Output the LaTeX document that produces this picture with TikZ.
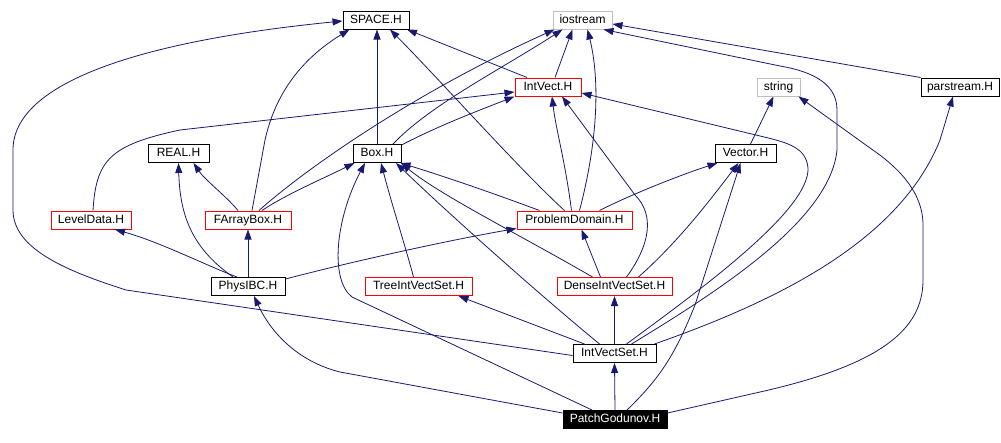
\documentclass[tikz,border=0pt]{standalone}
\usepackage{fontspec}
\setmainfont{Liberation Sans}
\usetikzlibrary{arrows.meta}
\definecolor{edgeblue}{HTML}{191970}
\definecolor{greyb}{HTML}{BFBFBF}
\tikzset{
  file/.style={draw=black, line width=1pt, minimum height=18pt, inner sep=0pt, font=\fontsize{12}{12}\selectfont, text height=9pt, text depth=2.5pt},
  redfile/.style={file, draw=red},
  sysfile/.style={file, draw=greyb},
  mainfile/.style={file, fill=black, text=white},
  dep/.style={draw=edgeblue, line width=0.8pt, -{Triangle[length=10pt,width=7pt]}}
}
\begin{document}
\begin{tikzpicture}[x=1pt,y=-1pt]
\useasboundingbox (0,0) rectangle (1001,442);
% nodes
\node[file, minimum width=66pt] (space) at (376,20) {SPACE.H};
\node[sysfile, minimum width=59pt] (iostream) at (582.5,20) {iostream};
\node[redfile, minimum width=66pt] (intvect) at (548,87) {IntVect.H};
\node[sysfile, minimum width=43pt] (string) at (778.5,87) {string};
\node[file, minimum width=78pt] (parstream) at (960,87) {parstream.H};
\node[file, minimum width=61pt] (real) at (178.5,153.5) {REAL.H};
\node[file, minimum width=48pt] (box) at (377,153.5) {Box.H};
\node[file, minimum width=61pt] (vector) at (745.5,153.5) {Vector.H};
\node[redfile, minimum width=80pt] (leveldata) at (91,220) {LevelData.H};
\node[redfile, minimum width=86pt] (farraybox) at (248,220) {FArrayBox.H};
\node[redfile, minimum width=115pt] (pd) at (574.5,220) {ProblemDomain.H};
\node[file, minimum width=74pt] (physibc) at (248,286.5) {PhysIBC.H};
\node[redfile, minimum width=107pt] (tree) at (418.5,286.5) {TreeIntVectSet.H};
\node[redfile, minimum width=115pt] (dense) at (614.5,286.5) {DenseIntVectSet.H};
\node[file, minimum width=83pt] (ivs) at (614.5,353.5) {IntVectSet.H};
\node[mainfile, minimum width=104pt] (patch) at (615,419.5) {PatchGodunov.H};
% PatchGodunov.H
\draw[dep] (patch.north) -- (ivs.south);
\draw[dep] ([yshift=-3pt]patch.north west) -- (340,372) .. controls (300,362) and (272,335) .. ([xshift=6pt]physibc.south);
\draw[dep] ([xshift=-23pt]patch.north) -- (352,297) .. controls (330,280) and (335,220) .. ([xshift=-12pt]box.south);
\draw[dep] ([xshift=12pt]patch.north) .. controls (660,378) and (675,355) .. (695,305) -- ([xshift=-5pt]vector.south);
\draw[dep] ([yshift=-3pt]patch.north east) -- (760,392) .. controls (880,365) and (923,330) .. (923,280) -- (923,225) .. controls (923,190) and (895,165) .. (870,148) -- ([xshift=-2pt]string.south east);
% IntVectSet.H
\draw[dep] (ivs.north) -- (dense.south);
\draw[dep] ([xshift=-30pt]ivs.north) -- ([xshift=-14pt]tree.south east);
\draw[dep] ([xshift=-15pt]ivs.north) .. controls (540,295) and (450,215) .. ([xshift=19pt]box.south);
\draw[dep] ([yshift=-2pt]ivs.west) -- (126,290) .. controls (70,272) and (13,250) .. (13,210) -- (13,150) .. controls (13,80) and (150,40) .. ([yshift=-1pt]space.west);
\draw[dep] ([xshift=12pt]ivs.north) .. controls (700,290) and (810,210) .. (808,168) .. controls (806,148) and (790,143) .. (760,136) -- ([yshift=-6pt]intvect.east);
\draw[dep] ([xshift=17pt]ivs.north) .. controls (720,290) and (830,220) .. (837,150) -- (837,110) .. controls (837,85) and (815,72) .. (780,66) -- ([xshift=-9pt]iostream.south east);
\draw[dep] ([xshift=-2pt]ivs.north east) .. controls (780,300) and (900,240) .. (940,140) -- ([xshift=-7pt]parstream.south);
% DenseIntVectSet.H
\draw[dep] ([xshift=-14pt]dense.north) -- ([xshift=7pt]pd.south);
\draw[dep] ([xshift=-22pt]dense.north) .. controls (520,235) and (440,195) .. ([xshift=24pt]box.south);
\draw[dep] ([xshift=12pt]dense.north) .. controls (650,245) and (655,215) .. (635,195) -- ([xshift=14pt]intvect.south);
\draw[dep] ([xshift=24pt]dense.north) .. controls (680,240) and (710,200) .. ([xshift=-7pt]vector.south);
% ProblemDomain.H
\draw[dep] ([xshift=-35pt]pd.north) .. controls (490,192) and (440,175) .. ([xshift=-1pt]box.south east);
\draw[dep] ([xshift=-10pt]pd.north) .. controls (520,170) and (440,80) .. ([xshift=14pt]space.south);
\draw[dep] ([xshift=-3pt]pd.north) .. controls (565,160) and (556,130) .. ([xshift=4pt]intvect.south);
\draw[dep] ([xshift=5pt]pd.north) .. controls (598,140) and (600,80) .. ([xshift=5pt]iostream.south);
\draw[dep] ([xshift=25pt]pd.north) .. controls (630,195) and (680,175) .. ([xshift=3pt]vector.south west);
% TreeIntVectSet.H
\draw[dep] ([xshift=-5pt]tree.north) .. controls (405,245) and (392,205) .. ([xshift=4pt]box.south);
% PhysIBC.H
\draw[dep] (physibc.north) -- (farraybox.south);
\draw[dep] ([xshift=-11pt]physibc.north) .. controls (205,265) and (160,242) .. ([xshift=24pt]leveldata.south);
\draw[dep] ([xshift=-15pt]physibc.north) .. controls (195,250) and (180,220) .. (real.south);
\draw[dep] ([yshift=-2pt]physibc.north east) .. controls (350,262) and (450,240) .. ([yshift=1pt]pd.south west);
% FArrayBox.H
\draw[dep] ([xshift=14pt]farraybox.north) .. controls (285,195) and (320,180) .. ([xshift=2pt]box.south west);
\draw[dep] ([xshift=-10pt]farraybox.north) .. controls (225,195) and (205,180) .. ([xshift=15pt]real.south);
\draw[dep] ([xshift=4pt]farraybox.north) -- (265,140) .. controls (275,95) and (300,60) .. ([xshift=7pt]space.south west);
\draw[dep] ([xshift=11pt]farraybox.north) .. controls (310,165) and (420,90) .. ([xshift=2pt]iostream.south west);
% Box.H
\draw[dep] (box.north) -- (box.north |- space.south);
\draw[dep] ([xshift=16pt]box.north) .. controls (430,105) and (500,70) .. ([xshift=-20pt]iostream.south);
\draw[dep] ([yshift=-1pt]box.north east) .. controls (440,125) and (480,110) .. (intvect.south west);
% LevelData.H
\draw[dep] ([xshift=2pt]leveldata.north) .. controls (96,160) and (110,145) .. (180,130) -- ([yshift=-5pt]intvect.west);
% IntVect.H
\draw[dep] ([xshift=-21pt]intvect.north) -- ([xshift=31pt]space.south);
\draw[dep] ([xshift=7pt]intvect.north) -- ([xshift=-10pt]iostream.south);
% Vector.H
\draw[dep] ([xshift=5pt]vector.north) -- ([xshift=-5pt]string.south);
% parstream.H
\draw[dep] (parstream.north west) -- ([yshift=-4pt]iostream.east);
\end{tikzpicture}
\end{document}
